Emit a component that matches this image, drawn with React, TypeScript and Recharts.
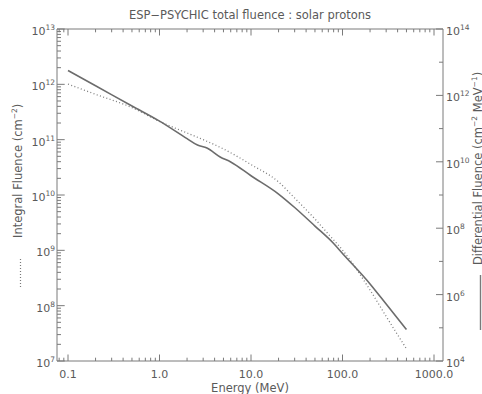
import { ComposedChart, Line, XAxis, YAxis } from 'recharts';

// ESP-PSYCHIC total fluence, solar protons
const integralEnergy = [0.1, 0.2, 0.5, 1, 2, 3, 5, 10, 20, 30, 50, 70, 100, 200, 300, 500];
const integralFluence = [1.01e12, 6.6e11, 3.8e11, 2.14e11, 1.32e11, 1.0e11, 6.8e10, 3.55e10, 1.72e10, 8.8e9, 3.68e9, 1.97e9, 1.01e9, 1.92e8, 6.4e7, 1.66e7];

const diffEnergy = [0.1, 0.2, 0.5, 1, 2, 2.6, 3.3, 4.6, 6, 10, 20, 30, 50, 80, 100, 200, 300, 500];
const diffFluence = [5.6e12, 1.95e12, 4.8e11, 1.68e11, 5.0e10, 3.2e10, 2.6e10, 1.4e10, 9.9e9, 3.8e9, 1.07e9, 4.2e8, 1.16e8, 3.46e7, 1.74e7, 2.1e6, 5.2e5, 8.9e4];

const xMajorTicks = [0.1, 1, 10, 100, 1000];
const xTickLabels = ['0.1', '1.0', '10.0', '100.0', '1000.0'];
const xDomain = [0.0758, 1254];
const leftExponents = [7, 8, 9, 10, 11, 12, 13];
const rightExponents = [4, 5, 6, 7, 8, 9, 10, 11, 12, 13, 14];
const rightLabelExponents = [4, 6, 8, 10, 12, 14];

const integralData = integralEnergy.map((e, i) => ({ e, v: integralFluence[i] }));
const diffData = diffEnergy.map((e, i) => ({ e, v: diffFluence[i] }));

const FONT = '"DejaVu Sans", sans-serif';
const AXIS = '#7a7a7a';
const TEXT = '#5a5a5a';

// minor ticks 2..9 within each decade
const withMinors = (majors: number[], lo: number, hi: number) => {
  const out: number[] = [];
  for (let d = -2; d <= 14; d++) {
    for (let k = 1; k <= 9; k++) {
      const v = k * Math.pow(10, d);
      if (v >= lo && v <= hi) out.push(v);
    }
  }
  return out.filter((v) => v >= Math.min(...majors) / 10 || v >= lo);
};

const xTicks = withMinors(xMajorTicks, xDomain[0], xDomain[1]);
const leftTicks = withMinors(leftExponents.map((p) => Math.pow(10, p)), 1e7, 1e13);
const rightTicks = rightExponents.map((p) => Math.pow(10, p));

const isDecade = (v: number) => Math.abs(Math.log10(v) - Math.round(Math.log10(v))) < 1e-6;

function BottomTick(props: any) {
  const { x, y, payload } = props;
  const v = payload.value;
  const major = isDecade(v);
  const idx = xMajorTicks.findIndex((m) => Math.abs(m - v) / m < 1e-6);
  return (
    <g>
      <line x1={x} x2={x} y1={y} y2={y - (major ? 6.5 : 3.3)} stroke={AXIS} />
      {idx >= 0 && (
        <text x={x} y={y + 17} textAnchor="middle" fontFamily={FONT} fontSize={11} fill={TEXT}>
          {xTickLabels[idx]}
        </text>
      )}
    </g>
  );
}

function TopTick(props: any) {
  const { x, y, payload } = props;
  const major = isDecade(payload.value);
  return <line x1={x} x2={x} y1={y} y2={y + (major ? 6.5 : 3.3)} stroke={AXIS} />;
}

function LeftTick(props: any) {
  const { x, y, payload } = props;
  const v = payload.value;
  const major = isDecade(v);
  return (
    <g>
      <line x1={x} x2={x + (major ? 7.7 : 4)} y1={y} y2={y} stroke={AXIS} />
      {major && (
        <text x={x - 2} y={y + 6} textAnchor="end" fontFamily={FONT} fontSize={11} fill={TEXT}>
          <tspan>10</tspan>
          <tspan dy={-5} fontSize={7.5}>{Math.round(Math.log10(v))}</tspan>
        </text>
      )}
    </g>
  );
}

function RightTick(props: any) {
  const { x, y, payload } = props;
  const exp = Math.round(Math.log10(payload.value));
  const labelled = rightLabelExponents.includes(exp);
  return (
    <g>
      <line x1={x} x2={x - (labelled ? 7 : 4)} y1={y} y2={y} stroke={AXIS} />
      {labelled && (
        <text x={x + 3} y={y + 6} textAnchor="start" fontFamily={FONT} fontSize={11} fill={TEXT}>
          <tspan>10</tspan>
          <tspan dy={-5} fontSize={7.5}>{exp}</tspan>
        </text>
      )}
    </g>
  );
}

function TitleLabel(props: any) {
  const vb = props.viewBox;
  return (
    <text x={vb.x + vb.width / 2} y={vb.y + 10} textAnchor="middle" fontFamily={FONT} fontSize={11.5} fill={TEXT}>
      ESP−PSYCHIC total fluence : solar protons
    </text>
  );
}

function EnergyLabel(props: any) {
  const vb = props.viewBox;
  return (
    <text x={vb.x + vb.width / 2} y={vb.y + 31} textAnchor="middle" fontFamily={FONT} fontSize={11.5} fill={TEXT}>
      Energy (MeV)
    </text>
  );
}

function IntegralLabel(props: any) {
  const vb = props.viewBox;
  const x = vb.x + 21.5;
  const y = vb.y + 209;
  return (
    <g>
      <text x={x} y={y} transform={`rotate(-90, ${x}, ${y})`} fontFamily={FONT} fontSize={11.5} fill={TEXT}>
        <tspan>Integral Fluence (cm</tspan>
        <tspan dy={-5} fontSize={7.5}>−2</tspan>
        <tspan dy={5}>)</tspan>
      </text>
      <line x1={x - 1} x2={x - 1} y1={vb.y + 230} y2={vb.y + 258} stroke={AXIS} strokeWidth={1.2} strokeDasharray="1 2" />
    </g>
  );
}

function DiffLabel(props: any) {
  const vb = props.viewBox;
  const x = vb.x + 38.5;
  const y = vb.y + 236;
  return (
    <g>
      <text x={x} y={y} transform={`rotate(-90, ${x}, ${y})`} fontFamily={FONT} fontSize={11.5} fill={TEXT}>
        <tspan>Differential Fluence (cm</tspan>
        <tspan dy={-5} fontSize={7.5}>−2</tspan>
        <tspan dy={5}> MeV</tspan>
        <tspan dy={-5} fontSize={7.5}>−1</tspan>
        <tspan dy={5}>)</tspan>
      </text>
      <line x1={x - 1} x2={x - 1} y1={vb.y + 246} y2={vb.y + 301} stroke={AXIS} strokeWidth={1.4} />
    </g>
  );
}

export default function App() {
  return (
    <div style={{ position: 'absolute', left: 0, top: 0, width: 482, height: 394, background: '#fff', overflow: 'hidden' }}>
      <ComposedChart width={482} height={394} margin={{ top: 9, right: 0, bottom: 0, left: 0 }}>
        <XAxis
          xAxisId="bottom"
          dataKey="e"
          type="number"
          scale="log"
          domain={xDomain}
          allowDataOverflow
          ticks={xTicks}
          interval={0}
          height={33}
          tickLine={false}
          tickSize={0}
          tickMargin={0}
          stroke={AXIS}
          tick={<BottomTick />}
          label={<EnergyLabel />}
        />
        <XAxis
          xAxisId="top"
          orientation="top"
          dataKey="e"
          type="number"
          scale="log"
          domain={xDomain}
          allowDataOverflow
          ticks={xTicks}
          interval={0}
          height={20}
          tickLine={false}
          tickSize={0}
          tickMargin={0}
          stroke={AXIS}
          tick={<TopTick />}
          label={<TitleLabel />}
        />
        <YAxis
          yAxisId="left"
          type="number"
          scale="log"
          domain={[1e7, 1e13]}
          allowDataOverflow
          ticks={leftTicks}
          interval={0}
          width={57}
          tickLine={false}
          tickSize={0}
          tickMargin={0}
          stroke={AXIS}
          tick={<LeftTick />}
          label={<IntegralLabel />}
        />
        <YAxis
          yAxisId="right"
          orientation="right"
          type="number"
          scale="log"
          domain={[1e4, 1e14]}
          allowDataOverflow
          ticks={rightTicks}
          interval={0}
          width={39}
          tickLine={false}
          tickSize={0}
          tickMargin={0}
          stroke={AXIS}
          tick={<RightTick />}
          label={<DiffLabel />}
        />
        <Line
          xAxisId="bottom"
          yAxisId="left"
          data={integralData}
          dataKey="v"
          type="monotone"
          stroke="#7d7d7d"
          strokeWidth={1.3}
          strokeDasharray="1 2.4"
          dot={false}
          isAnimationActive={false}
        />
        <Line
          xAxisId="bottom"
          yAxisId="right"
          data={diffData}
          dataKey="v"
          type="monotone"
          stroke="#6c6c6c"
          strokeWidth={1.6}
          dot={false}
          isAnimationActive={false}
        />
      </ComposedChart>
    </div>
  );
}
